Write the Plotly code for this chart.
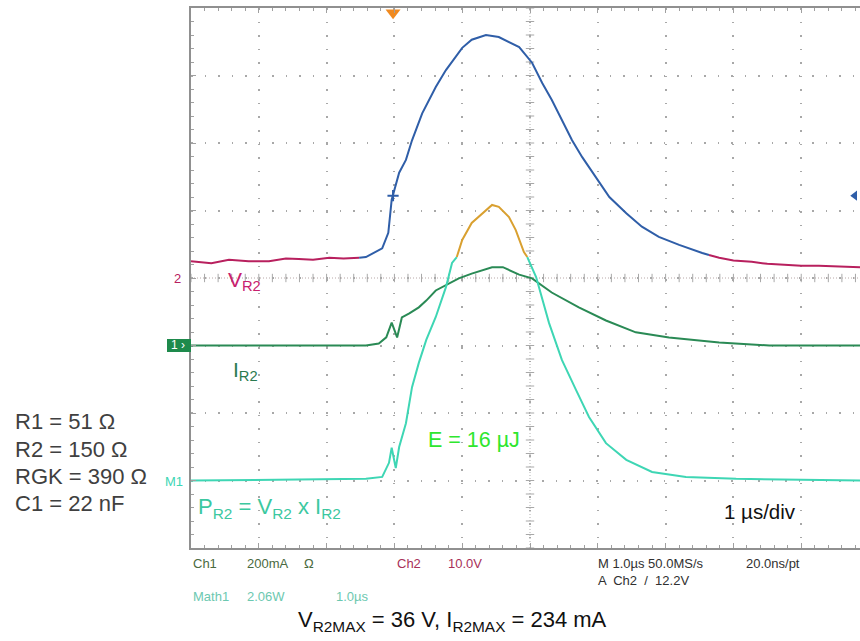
import numpy as np
import plotly.graph_objects as go

# ---------------- channel settings (scope) ----------------
V_SCALE, V_POS = 10.0, 4.0      # Ch2: 10 V/div, ground at div 4
I_SCALE, I_POS = 200.0, 3.0     # Ch1: 200 mA/div, ground at div 3
P_SCALE, P_POS = 2.06, 1.0      # Math1: 2.06 W/div, zero at div 1

# ---------------- data (time in us, centre of screen = 0) ----------------
# V_R2 (volts) - magenta pre-pulse part
v_t_a = [-5.0, -4.7, -4.44, -4.15, -3.85, -3.6, -3.41, -3.2, -2.96, -2.75, -2.52]
v_a   = [2.5, 2.2, 2.7, 2.5, 2.5, 2.9, 2.8, 2.7, 3.0, 2.9, 3.0]
# V_R2 - blue pulse part
v_t_b = [-2.52, -2.42, -2.18, -2.09, -2.04, -1.93, -1.83, -1.74, -1.59, -1.39, -1.24,
         -1.00, -0.86, -0.65, -0.46, -0.27, -0.16, 0.03, 0.18, 0.32, 0.47, 0.62, 0.77,
         0.97, 1.17, 1.42, 1.65, 1.90, 2.20, 2.54, 2.64]
v_b   = [3.0, 3.1, 4.4, 6.7, 11.6, 15.6, 17.5, 20.4, 24.4, 28.3, 30.8,
         34.1, 35.3, 36.0, 35.7, 34.8, 34.2, 31.9, 28.9, 26.4, 23.4, 20.4, 17.9,
         15.0, 12.0, 9.6, 7.6, 6.1, 4.9, 3.7, 3.4]
# V_R2 - magenta tail
v_t_c = [2.64, 2.79, 3.0, 3.27, 3.5, 3.78, 4.0, 4.26, 4.5, 4.75, 4.87]
v_c   = [3.4, 3.0, 2.6, 2.4, 2.1, 1.9, 1.8, 1.8, 1.7, 1.6, 1.6]

# I_R2 (mA)
i_t = [-5.0, -2.42, -2.23, -2.12, -2.04, -1.96, -1.89, -1.78, -1.64, -1.53, -1.39,
       -1.24, -1.05, -0.86, -0.71, -0.56, -0.40, -0.27, -0.16, 0.03, 0.32, 0.72,
       1.12, 1.56, 2.05, 2.79, 3.53, 4.87]
i_v = [0, 0, 6, 24, 68, 24, 83, 95, 113, 133, 163,
       178, 199, 213, 222, 232, 232, 219, 210, 199, 157, 113,
       74, 39, 24, 9, 0, 0]

# P_R2 (W) - cyan rising part
p_t_a = [-5.0, -2.42, -2.18, -2.08, -2.04, -1.98, -1.93, -1.83, -1.74, -1.64, -1.53,
         -1.39, -1.24, -1.15, -1.08]
p_a   = [0.0, 0.05, 0.11, 0.54, 1.0, 0.38, 1.02, 1.75, 2.85, 3.59, 4.29,
         4.99, 5.90, 6.64, 6.82]
# P_R2 - orange top
p_t_b = [-1.08, -1.00, -0.86, -0.65, -0.56, -0.46, -0.31, -0.21, -0.09, -0.04]
p_b   = [6.82, 7.34, 7.86, 8.25, 8.41, 8.35, 8.04, 7.64, 6.97, 6.82]
# P_R2 - cyan falling part
p_t_c = [-0.04, 0.09, 0.28, 0.47, 0.68, 0.87, 1.12, 1.42, 1.80, 2.30, 3.04, 4.87]
p_c   = [6.82, 6.21, 4.81, 3.68, 2.76, 1.94, 1.14, 0.63, 0.26, 0.11, 0.05, 0.0]

TRIG_T, TRIG_LEVEL_V = -2.02, 12.2

# ---------------- helpers ----------------
def vd(vals): return [V_POS + v / V_SCALE for v in vals]
def idv(vals): return [I_POS + v / I_SCALE for v in vals]
def pd_(vals): return [P_POS + v / P_SCALE for v in vals]

L, R, T, B = 191, 860, 8, 548
def px(x): return (x - L) / (R - L)
def py(y): return (B - y) / (B - T)

X0, X1 = -5.0, 4.867
C_MAG, C_BLUE, C_GRN, C_CYAN, C_ORG = "#b8205e", "#2f5ea8", "#2a8a55", "#3ed6b4", "#d9a030"
GRID = "#a8a8a8"

fig = go.Figure()

# centre cross ticks
mt = np.arange(-5.0, 4.87, 0.2)
fig.add_trace(go.Scatter(x=mt, y=[4.0] * len(mt), mode="markers", hoverinfo="skip",
                         marker=dict(symbol="line-ns", size=6, line=dict(width=1, color=GRID))))
my = np.arange(0.0, 8.01, 0.2)
fig.add_trace(go.Scatter(x=[0.0] * len(my), y=my, mode="markers", hoverinfo="skip",
                         marker=dict(symbol="line-ew", size=6, line=dict(width=1, color=GRID))))

lw = 2
fig.add_trace(go.Scatter(x=v_t_a, y=vd(v_a), mode="lines", line=dict(color=C_MAG, width=lw)))
fig.add_trace(go.Scatter(x=v_t_b, y=vd(v_b), mode="lines", line=dict(color=C_BLUE, width=lw)))
fig.add_trace(go.Scatter(x=v_t_c, y=vd(v_c), mode="lines", line=dict(color=C_MAG, width=lw)))
fig.add_trace(go.Scatter(x=i_t, y=idv(i_v), mode="lines", line=dict(color=C_GRN, width=lw)))
fig.add_trace(go.Scatter(x=p_t_a, y=pd_(p_a), mode="lines", line=dict(color=C_CYAN, width=lw)))
fig.add_trace(go.Scatter(x=p_t_b, y=pd_(p_b), mode="lines", line=dict(color=C_ORG, width=lw)))
fig.add_trace(go.Scatter(x=p_t_c, y=pd_(p_c), mode="lines", line=dict(color=C_CYAN, width=lw)))

# trigger point on the trace, trigger markers
fig.add_trace(go.Scatter(x=[TRIG_T], y=vd([TRIG_LEVEL_V]), mode="markers",
                         marker=dict(symbol="cross-thin", size=8, line=dict(width=2, color=C_BLUE))))
fig.add_trace(go.Scatter(x=[TRIG_T], y=[7.93], mode="markers", cliponaxis=False,
                         marker=dict(symbol="triangle-down", size=13, color="#f08a20")))
fig.add_trace(go.Scatter(x=[4.79], y=vd([TRIG_LEVEL_V]), mode="markers", cliponaxis=False,
                         marker=dict(symbol="triangle-left", size=9, color=C_BLUE)))
# ground reference arrows at left border
fig.add_trace(go.Scatter(x=[-5.07, -5.07], y=[V_POS, P_POS], mode="markers", cliponaxis=False,
                         marker=dict(symbol="triangle-right", size=6, color=[C_MAG, C_CYAN])))

shapes = [
    dict(type="line", xref="x", yref="y", x0=X0, x1=X1, y0=4, y1=4,
         line=dict(color="#b8a8a8", width=1, dash="1px,2px"), layer="below"),
    dict(type="line", xref="x", yref="y", x0=0, x1=0, y0=0, y1=8,
         line=dict(color="#b0b0b0", width=1, dash="1px,2px"), layer="below"),
    dict(type="rect", xref="paper", yref="paper", x0=px(167), x1=px(191), y0=py(352), y1=py(339),
         fillcolor="#1e8a4c", line=dict(width=0)),
]

ann = []
def txt(x, y, s, size, color, xanchor="left"):
    ann.append(dict(x=px(x), y=py(y), xref="paper", yref="paper", text=s, showarrow=False,
                    xanchor=xanchor, yanchor="middle", font=dict(size=size, color=color)))

# channel markers
txt(183, 279, "2", 13, C_MAG, "right")
txt(178, 345, "1 ›", 12, "white", "center")
txt(185, 481, "M1", 13, C_CYAN, "right")

# trace labels
txt(226, 281, "V<sub>R2</sub>", 21, "#c8206e")
txt(231, 371, "I<sub>R2</sub>", 21, "#2a7a50")
txt(196, 508, "P<sub>R2</sub> = V<sub>R2</sub> x I<sub>R2</sub>", 22, "#3cc8a0")
txt(426, 440, "E = 16 µJ", 21.5, "#2ee62e")
txt(722, 511, "1 µs/div", 20.5, "#111111")

# component values
for yy, s in [(422, "R1 = 51 Ω"), (449, "R2 = 150 Ω"), (476, "RGK = 390 Ω"), (503, "C1 = 22 nF")]:
    txt(13, yy, s, 22, "#404040")

# status lines
SF = 13
c1, c2, cm, ck = "#4a6a40", "#a83058", "#6cc8b0", "#303030"
txt(191, 563, "Ch1", SF, c1)
txt(245, 563, "200mA", SF, c1)
txt(302, 563, "Ω", SF, c1)
txt(395, 563, "Ch2", SF, c2)
txt(446, 563, "10.0V", SF, c2)
txt(596, 563, "M 1.0µs 50.0MS/s", SF, ck)
txt(744, 563, "20.0ns/pt", SF, ck)
txt(596, 580, "A  Ch2  /  12.2V", SF, ck)
txt(191, 596, "Math1", SF, cm)
txt(245, 596, "2.06W", SF, cm)
txt(334, 596, "1.0µs", SF, cm)

txt(452, 621, "V<sub>R2MAX</sub> = 36 V, I<sub>R2MAX</sub> = 234 mA", 22, "#111111", "center")

axcommon = dict(showticklabels=False, zeroline=False, showgrid=True, gridcolor=GRID,
                gridwidth=1.5, showline=True, linecolor="#909090", linewidth=1.5,
                ticks="inside", ticklen=5, tickcolor="#a0a0a0", tickwidth=1)
fig.update_layout(
    width=860, height=641, showlegend=False,
    margin=dict(l=L, r=860 - R, t=T, b=641 - B, pad=0),
    paper_bgcolor="white", plot_bgcolor="white",
    font=dict(family="Liberation Sans, Arial, sans-serif"),
    xaxis=dict(range=[X0, X1], dtick=1, tick0=0, griddash="1.5px,12.06px", mirror="ticks",
               minor=dict(dtick=0.2, ticks="inside", ticklen=3, tickcolor="#a0a0a0", showgrid=False),
               **axcommon),
    yaxis=dict(range=[0, 8], dtick=1, tick0=0, griddash="1.5px,12px",
               minor=dict(dtick=0.2, ticks="inside", ticklen=3, tickcolor="#a0a0a0", showgrid=False),
               **axcommon),
    shapes=shapes, annotations=ann,
)
fig.write_html("out.html", config={"displayModeBar": False},
               post_script="document.body.style.margin='0px';document.body.style.overflow='hidden';")
